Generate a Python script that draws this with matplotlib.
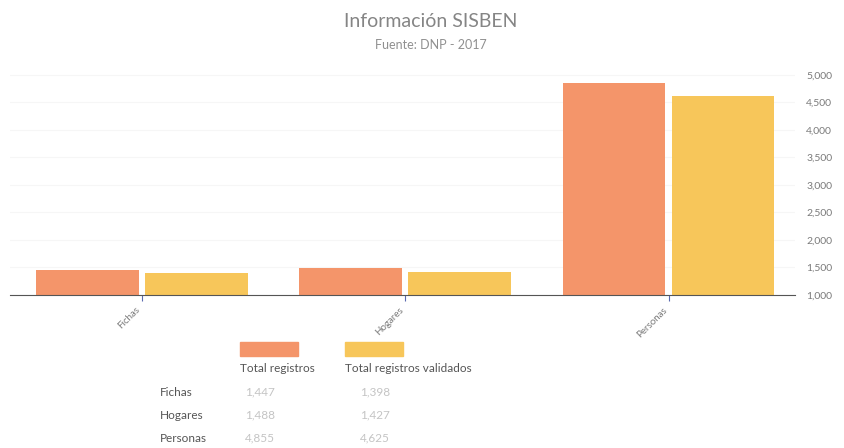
import matplotlib.pyplot as plt
import matplotlib.ticker as mticker
import numpy as np

categorias = ["Fichas", "Hogares", "Personas"]
total_registros = [1447, 1488, 4855]
total_validados = [1398, 1427, 4625]
etiquetas_tabla = ["1,447", "1,488", "4,855"]
etiquetas_validados = ["1,398", "1,427", "4,625"]

naranja = "#F4956A"
amarillo = "#F7C65A"
gris = "#7a7a7a"

plt.rcParams['font.family'] = ['Lato', 'DejaVu Sans']

fig = plt.figure(figsize=(8.45, 4.48), dpi=100)
ax = fig.add_axes([10 / 845, (448 - 295) / 448, 785 / 845, 230 / 448])

x = np.arange(len(categorias))
w = 0.39
ax.bar(x - w / 2 - 0.012, total_registros, w, color=naranja)
ax.bar(x + w / 2 + 0.012, total_validados, w, color=amarillo)

ax.set_xlim(-0.5, 2.48)
ax.set_ylim(1000, 5180)
ax.yaxis.tick_right()
ax.yaxis.set_major_locator(mticker.MultipleLocator(500))
ax.yaxis.set_major_formatter(mticker.FuncFormatter(lambda v, p: f"{int(v):,}"))
ax.tick_params(axis='y', length=0, labelsize=7.5, labelcolor=gris, pad=8)
ax.set_xticks(x)
ax.set_xticklabels(categorias, rotation=45, ha='right', fontsize=7, color=gris)
ax.tick_params(axis='x', length=4, color="#5a6ab0")
ax.grid(axis='y', color="#f6f6f6", linewidth=0.8)
ax.set_axisbelow(True)
for s in ["top", "left", "right"]:
    ax.spines[s].set_visible(False)
ax.spines["bottom"].set_color("#555555")

fig.text(0.51, 0.94, "Información SISBEN", ha='center', fontsize=14, color="#858585")
fig.text(0.51, 0.89, "Fuente: DNP - 2017", ha='center', fontsize=9, color="#909090")

# leyenda y tabla inferior
fig.patches.append(plt.Rectangle((240 / 845, 1 - 356 / 448), 58 / 845, 14 / 448,
                                 transform=fig.transFigure, color=naranja))
fig.patches.append(plt.Rectangle((345 / 845, 1 - 356 / 448), 58 / 845, 14 / 448,
                                 transform=fig.transFigure, color=amarillo))
fig.text(240 / 845, 1 - 368 / 448, "Total registros", fontsize=8.5, color="#555555", va='center')
fig.text(345 / 845, 1 - 368 / 448, "Total registros validados", fontsize=8.5, color="#555555", va='center')
for i, c in enumerate(categorias):
    yy = 1 - (392 + 23 * i) / 448
    fig.text(160 / 845, yy, c, fontsize=8.5, color="#555555", va='center')
    fig.text(245 / 845, yy, etiquetas_tabla[i], fontsize=8.5, color="#c4c4c4", va='center')
    fig.text(360 / 845, yy, etiquetas_validados[i], fontsize=8.5, color="#c4c4c4", va='center')

fig.savefig("out.png", dpi=100, facecolor="white")
